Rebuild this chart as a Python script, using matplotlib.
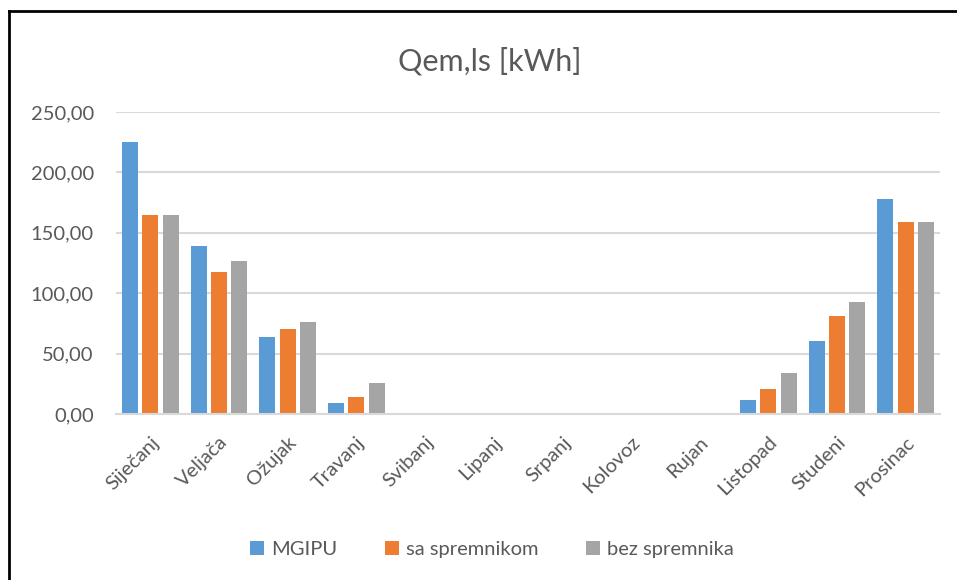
import matplotlib

matplotlib.use("Agg")
import matplotlib.pyplot as plt
import numpy as np
from matplotlib.ticker import FuncFormatter
from matplotlib.lines import Line2D

months = ["Siječanj", "Veljača", "Ožujak", "Travanj", "Svibanj", "Lipanj",
          "Srpanj", "Kolovoz", "Rujan", "Listopad", "Studeni", "Prosinac"]
mgipu = [224.9, 139.1, 64.0, 9.3, 0, 0, 0, 0, 0, 11.8, 60.5, 177.9]
sa_spremnikom = [165.0, 117.7, 70.1, 14.3, 0, 0, 0, 0, 0, 20.9, 81.4, 159.2]
bez_spremnika = [165.0, 126.5, 75.9, 25.3, 0, 0, 0, 0, 0, 34.1, 92.7, 159.2]
series_names = ["MGIPU", "sa spremnikom", "bez spremnika"]
colors = ["#5B9BD5", "#ED7D31", "#A5A5A5"]
yticks = [0, 50, 100, 150, 200, 250]

plt.rcParams["font.family"] = ["Lato", "DejaVu Sans"]
text_color = "#595959"
grid_color = "#D9D9D9"

fig = plt.figure(figsize=(9.57, 5.8), dpi=100)
ax = fig.add_axes([116 / 957, 1 - 414 / 580, (940 - 116) / 957, (414 - 112) / 580])

x = np.arange(len(months))
step = 0.296
width = 0.235
for i, (vals, name, c) in enumerate(zip([mgipu, sa_spremnikom, bez_spremnika], series_names, colors)):
    ax.bar(x + (i - 1) * step, vals, width, color=c, label=name, zorder=3)

ax.set_xlim(-0.5, len(months) - 0.5)
ax.set_ylim(0, 250)
ax.set_yticks(yticks)
ax.yaxis.set_major_formatter(FuncFormatter(lambda v, p: f"{v:.2f}".replace(".", ",")))
ax.grid(axis="y", color=grid_color, linewidth=1.5, zorder=0)
for s in ["top", "right", "left"]:
    ax.spines[s].set_visible(False)
ax.spines["bottom"].set_color(grid_color)
ax.spines["bottom"].set_linewidth(1.5)
ax.spines["bottom"].set_zorder(4)
ax.tick_params(axis="both", length=0, colors=text_color, labelsize=14.5)
ax.tick_params(axis="y", pad=16)
ax.set_xticks(x)
ax.set_xticklabels(months, rotation=45, ha="right", rotation_mode="anchor")
ax.tick_params(axis="x", pad=14)

fig.text(0.512, 0.895, "Qem,ls [kWh]", ha="center", va="center", fontsize=22, color=text_color)

ax.legend(loc="center", bbox_to_anchor=(0.514, 0.053), bbox_transform=fig.transFigure,
          ncol=3, frameon=False, fontsize=14.5, labelcolor=text_color,
          handlelength=0.7, handleheight=0.7, handletextpad=0.35, columnspacing=2.35)

# chart frame (top and left edges visible in the reference)
fig.add_artist(Line2D([9 / 957, 1], [1 - 11 / 580, 1 - 11 / 580], color="black", linewidth=2,
                      transform=fig.transFigure))
fig.add_artist(Line2D([9 / 957, 9 / 957], [0, 1 - 11 / 580], color="black", linewidth=2,
                      transform=fig.transFigure))

fig.savefig("out.png", dpi=100)
plt.close(fig)
